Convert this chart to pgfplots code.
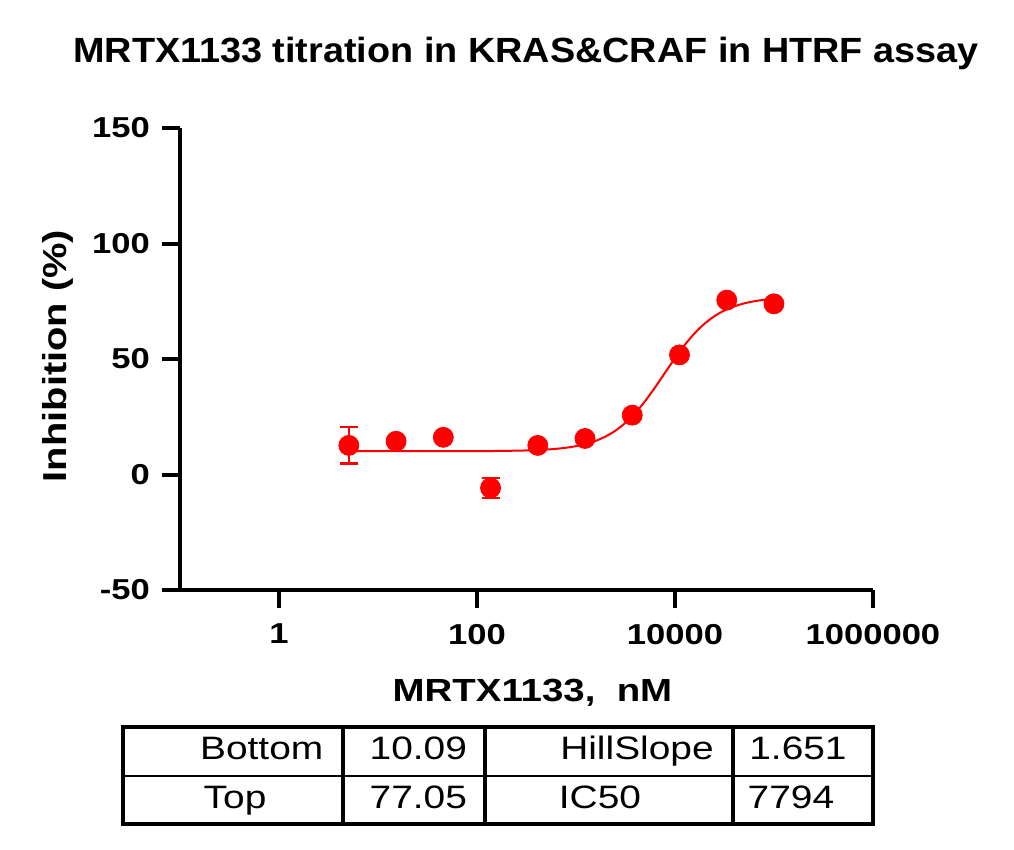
\documentclass[border=0pt]{standalone}
\usepackage{fontspec}
\setmainfont{Liberation Sans}[FakeStretch=1.08]
\newfontfamily\wide{Liberation Sans}[FakeStretch=1.2]
\usepackage{pgfplots}
\usepackage{pgfplotstable}
\pgfplotsset{compat=1.18}

% measured points (3-fold dilution, nM) and SD
\pgfplotstableread{
x       y      err
5.08    12.6   7.9
15.24   14.4   0
45.72   16.1   1.0
137.2   -5.8   4.3
411.5   12.6   0
1235    15.6   0
3704    25.7   0
11111   51.8   0
33333   75.5   0
100000  73.9   0
}\pointsdata

% fitted 4PL curve, sampled
\pgfplotstableread{
x       y
5.01    10.09
10      10.09
31.6    10.10
100     10.14
178     10.22
316     10.43
562     10.95
794     11.60
1000    12.27
1259    13.24
1585    14.59
1995    16.48
2512    19.03
3162    22.41
3981    26.70
5012    31.88
6310    37.78
7943    44.09
10000   50.36
12589   56.17
15849   61.21
19953   65.34
25119   68.58
31623   71.02
39811   72.80
50119   74.09
63096   75.00
79433   75.63
100000  76.07
}\fitdata

\begin{document}
\begin{tikzpicture}
\begin{axis}[
  scale only axis,
  width=346.5pt, height=231pt,
  xmode=log,
  xmin=0.1, xmax=1e6,
  ymin=-50, ymax=150,
  clip=false,
  axis lines=left,
  axis line style={line width=2pt, -},
  tick style={line width=2pt, black},
  major tick length=9pt,
  tick align=outside,
  xminorticks=false,
  xtick={1,100,10000,1000000},
  xticklabels={1,100,10000,1000000},
  ytick={-50,0,50,100,150},
  yticklabels={-50,0,50,100,150},
  ticklabel style={font=\wide\bfseries\fontsize{14.4}{15}\selectfont},
  xticklabel style={yshift=-4.5pt},
  yticklabel style={xshift=-2.5pt},
  xlabel={MRTX1133,\ \ nM},
  ylabel={Inhibition (\%)},
  every axis x label/.style={at={(rel axis cs:0.5087,-0.2403)}, anchor=base,
    font=\wide\bfseries\fontsize{16}{17}\selectfont},
  every axis y label/.style={at={(rel axis cs:-0.1635,0.5065)}, anchor=base, rotate=90,
    font=\wide\bfseries\fontsize{16.6}{17}\selectfont},
]
\path (rel axis cs:-0.2597,-0.5606) rectangle (rel axis cs:1.2035,1.2771);

\addplot[red, line width=1pt, smooth, mark=none] table[x=x, y=y] {\fitdata};
\addplot[red, line width=1pt, only marks, mark=none,
  error bars/.cd, y dir=both, y explicit,
  error bar style={line width=1pt, red},
  error mark options={rotate=90, mark size=4.5pt, line width=1.2pt, red}]
  table[x=x, y=y, y error=err] {\pointsdata};
\addplot[red, only marks, mark=*, mark size=5pt, mark options={fill=red, draw=red}]
  table[x=x, y=y] {\pointsdata};

% title
\node[anchor=base, font=\bfseries\fontsize{17.5}{18}\selectfont] at (rel axis cs:0.4993,1.1422)
  {MRTX1133 titration in KRAS\&CRAF in HTRF assay};

% parameter table
\draw[line width=2.2pt] (rel axis cs:-0.0823,-0.2965) rectangle (rel axis cs:1.0,-0.5065);
\draw[line width=0.6pt] (rel axis cs:-0.0823,-0.4026) -- (rel axis cs:1.0,-0.4026);
\draw[line width=1.8pt] (rel axis cs:0.2352,-0.2965) -- (rel axis cs:0.2352,-0.5065);
\draw[line width=1.8pt] (rel axis cs:0.4401,-0.2965) -- (rel axis cs:0.4401,-0.5065);
\draw[line width=1.8pt] (rel axis cs:0.7980,-0.2965) -- (rel axis cs:0.7980,-0.5065);
\node[anchor=base, font=\wide\fontsize{16.2}{17}\selectfont] at (rel axis cs:0.1179,-0.3658) {Bottom};
\node[anchor=base, font=\wide\fontsize{16.2}{17}\selectfont] at (rel axis cs:0.3439,-0.3658) {10.09};
\node[anchor=base, font=\wide\fontsize{16.2}{17}\selectfont] at (rel axis cs:0.6595,-0.3658) {HillSlope};
\node[anchor=base, font=\wide\fontsize{16.2}{17}\selectfont] at (rel axis cs:0.8918,-0.3658) {1.651};
\node[anchor=base, font=\wide\fontsize{16.2}{17}\selectfont] at (rel axis cs:0.0794,-0.4719) {Top};
\node[anchor=base, font=\wide\fontsize{16.2}{17}\selectfont] at (rel axis cs:0.3439,-0.4719) {77.05};
\node[anchor=base, font=\wide\fontsize{16.2}{17}\selectfont] at (rel axis cs:0.6061,-0.4719) {IC50};
\node[anchor=base, font=\wide\fontsize{16.2}{17}\selectfont] at (rel axis cs:0.8817,-0.4719) {7794};
\end{axis}
\end{tikzpicture}
\end{document}
